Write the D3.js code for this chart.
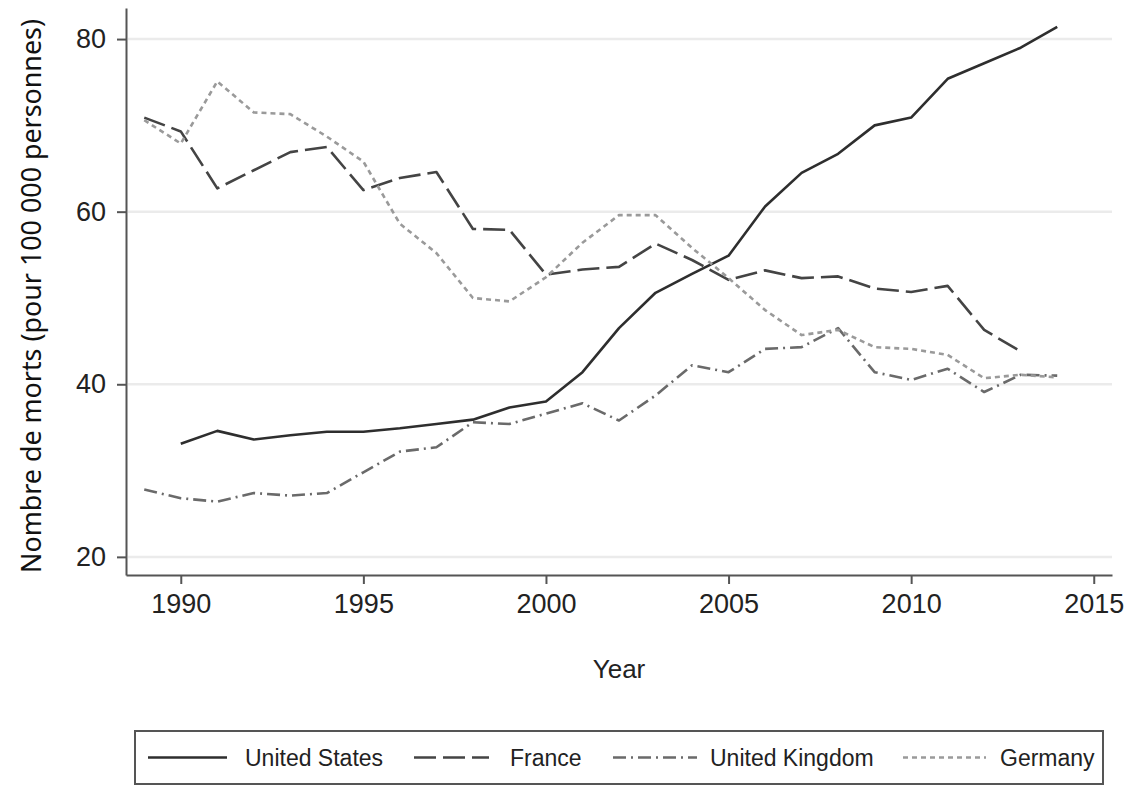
<!DOCTYPE html>
<html>
<head>
<meta charset="utf-8">
<script src="https://cdn.jsdelivr.net/npm/d3@7"></script>
<style>
    body { margin: 0; background: #fff; }
    svg text { font-family: "Liberation Sans", Arial, sans-serif; fill: #222; }
</style>
</head>
<body>
<div id="graph"></div>
<script>
//years on the x axis
let years = d3.range(1989, 2015);

//deaths per 100 000, one value per year (null = no data)
let unitedStates = [null, 33.1, 34.6, 33.6, 34.1, 34.5, 34.5, 34.9, 35.4, 35.9, 37.3, 38.0, 41.4, 46.5,
    50.6, 52.8, 54.9, 60.6, 64.5, 66.7, 70.0, 70.9, 75.4, 77.2, 79.0, 81.4];
let france = [70.9, 69.3, 62.7, 64.8, 66.9, 67.5, 62.5, 63.9, 64.6, 58.0, 57.9, 52.7, 53.3, 53.6,
    56.3, 54.4, 52.1, 53.2, 52.3, 52.5, 51.1, 50.7, 51.4, 46.3, 43.8, null];
let unitedKingdom = [27.8, 26.8, 26.4, 27.4, 27.1, 27.4, 29.8, 32.2, 32.7, 35.6, 35.4, 36.6, 37.8, 35.8,
    38.7, 42.2, 41.4, 44.1, 44.3, 46.5, 41.4, 40.5, 41.8, 39.1, 41.1, 41.0];
let germany = [70.6, 67.9, 75.1, 71.5, 71.3, 68.7, 65.8, 58.6, 55.2, 50.0, 49.6, 52.4, 56.4, 59.6,
    59.6, 55.8, 52.3, 48.6, 45.7, 46.3, 44.3, 44.1, 43.4, 40.7, 41.1, 40.8];

//tick labels
let xTicks = [1990, 1995, 2000, 2005, 2010, 2015];
let yTicks = [20, 40, 60, 80];

let seriesNames = ["United States", "France", "United Kingdom", "Germany"];
let seriesValues = [unitedStates, france, unitedKingdom, germany];

//line styles per series
let styles = [
    {color: "#2e2e2e", dash: null},
    {color: "#444444", dash: "22,7"},
    {color: "#6a6a6a", dash: "13,5,2,5"},
    {color: "#9a9a9a", dash: "5,4"}
];

let width = 1134, height = 790;
let plot = {left: 126, right: 1112, top: 8, bottom: 575};

let svg = d3.select("#graph")
    .append("svg")
    .attr("width", width)
    .attr("height", height);

//scales
let x = d3.scaleLinear()
    .domain([1988.5, 2015.5])
    .range([plot.left, plot.right]);

let y = d3.scaleLinear()
    .domain([17.9, 83.6])
    .range([plot.bottom, plot.top]);

//gridlines
svg.append("g")
    .selectAll("line")
    .data(yTicks)
    .enter()
    .append("line")
    .attr("x1", plot.left + 2)
    .attr("x2", plot.right)
    .attr("y1", d => y(d))
    .attr("y2", d => y(d))
    .attr("stroke", "#ebebeb")
    .attr("stroke-width", 2.5);

//y axis
let yAxis = svg.append("g")
    .attr("transform", `translate(${plot.left},0)`)
    .call(d3.axisLeft(y).tickValues(yTicks).tickSize(9).tickPadding(11).tickSizeOuter(0));

//x axis
let xAxis = svg.append("g")
    .attr("transform", `translate(0,${plot.bottom})`)
    .call(d3.axisBottom(x).tickValues(xTicks).tickFormat(d3.format("d")).tickSize(9).tickPadding(10).tickSizeOuter(0));

[yAxis, xAxis].forEach(function(a) {
    a.select(".domain").attr("stroke", "#555").attr("stroke-width", 2);
    a.selectAll(".tick line").attr("stroke", "#555").attr("stroke-width", 2);
    a.selectAll(".tick text").attr("fill", "#222");
});
yAxis.selectAll(".tick text").style("font-size", "27px");
xAxis.selectAll(".tick text").style("font-size", "27px");

//lines
let line = d3.line()
    .defined(d => d.v !== null)
    .x(d => x(d.year))
    .y(d => y(d.v));

seriesValues.forEach(function(vals, i) {
    let pts = years.map((yr, j) => ({year: yr, v: vals[j]}));
    svg.append("path")
        .datum(pts)
        .attr("fill", "none")
        .attr("stroke", styles[i].color)
        .attr("stroke-width", 2.6)
        .attr("stroke-dasharray", styles[i].dash)
        .attr("stroke-linejoin", "round")
        .attr("d", line);
});

//x label
svg.append("text")
    .attr("x", (plot.left + plot.right) / 2)
    .attr("y", 678)
    .style("text-anchor", "middle")
    .style("font-size", "26px")
    .text("Year");

//y label
svg.append("text")
    .attr("transform", `translate(41,${296}) rotate(-90)`)
    .attr("textLength", 554)
    .attr("lengthAdjust", "spacingAndGlyphs")
    .style("text-anchor", "middle")
    .style("font-family", "'Noto Sans', 'Open Sans', sans-serif")
    .style("font-size", "27px")
    .style("fill", "#111")
    .text("Nombre de morts (pour 100 000 personnes)");

//legend
let legend = svg.append("g");
legend.append("rect")
    .attr("x", 135)
    .attr("y", 731)
    .attr("width", 968)
    .attr("height", 53)
    .attr("fill", "#fff")
    .attr("stroke", "#555")
    .attr("stroke-width", 2);

let keyX = [148, 414, 613, 903];
let keyW = [79, 75, 84, 83];
let labelX = [245, 510, 710, 1000];

seriesNames.forEach(function(name, i) {
    legend.append("line")
        .attr("x1", keyX[i])
        .attr("x2", keyX[i] + keyW[i])
        .attr("y1", 757.5)
        .attr("y2", 757.5)
        .attr("stroke", styles[i].color)
        .attr("stroke-width", 2.6)
        .attr("stroke-dasharray", styles[i].dash);
    legend.append("text")
        .attr("x", labelX[i])
        .attr("y", 766)
        .style("font-size", "23px")
        .text(name);
});
</script>
</body>
</html>
